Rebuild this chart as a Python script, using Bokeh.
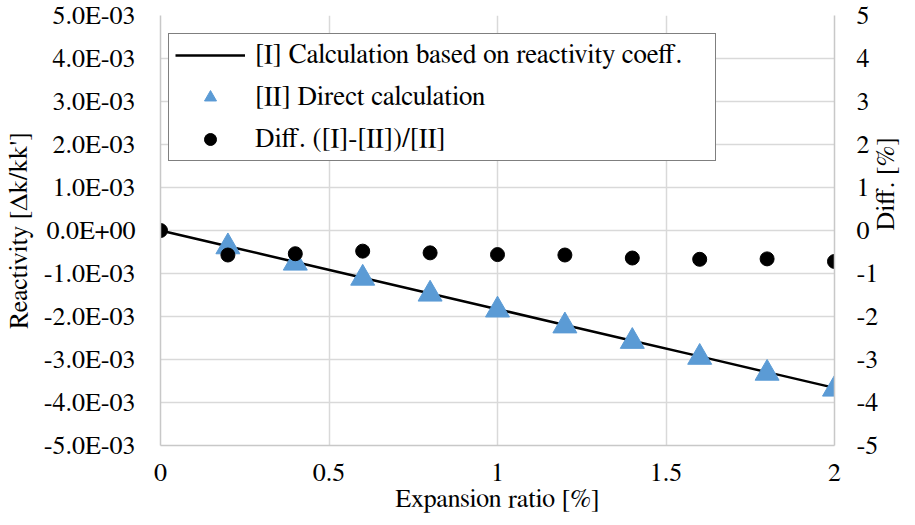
import math
from bokeh.plotting import figure
from bokeh.models import Range1d, LinearAxis, FixedTicker, CustomJSTickFormatter, Legend, LegendItem
from bokeh.embed import file_html
from bokeh.resources import INLINE

# ---- data ----
x_line = [0.0, 0.2, 0.4, 0.6, 0.8, 1.0, 1.2, 1.4, 1.6, 1.8, 2.0]
reactivity_coeff = [0.0, -0.366e-3, -0.732e-3, -1.098e-3, -1.464e-3, -1.830e-3,
                    -2.196e-3, -2.562e-3, -2.928e-3, -3.294e-3, -3.660e-3]
x_direct = [0.2, 0.4, 0.6, 0.8, 1.0, 1.2, 1.4, 1.6, 1.8, 2.0]
direct_calc = [-0.38e-3, -0.76e-3, -1.11e-3, -1.48e-3, -1.85e-3,
               -2.22e-3, -2.58e-3, -2.95e-3, -3.32e-3, -3.69e-3]
x_diff = [0.0, 0.2, 0.4, 0.6, 0.8, 1.0, 1.2, 1.4, 1.6, 1.8, 2.0]
diff_pct = [0.0, -0.57, -0.54, -0.48, -0.52, -0.56, -0.57, -0.64, -0.67, -0.66, -0.72]

x_ticks = [0, 0.5, 1, 1.5, 2]
y_ticks = [-0.005, -0.004, -0.003, -0.002, -0.001, 0.0, 0.001, 0.002, 0.003, 0.004, 0.005]
y2_ticks = [-5, -4, -3, -2, -1, 0, 1, 2, 3, 4, 5]

labels = ["[I] Calculation based on reactivity coeff.",
          "[II] Direct calculation",
          "Diff. ([I]-[II])/[II]"]

FONT = "FreeSerif"
FS = "26px"
GRID = "#D9D9D9"

p = figure(width=915, height=525, output_backend="svg", toolbar_location=None,
           x_range=Range1d(0, 2), y_range=Range1d(-0.005, 0.005),
           min_border_left=160, min_border_right=77, min_border_top=15, min_border_bottom=80)
p.outline_line_color = None
p.background_fill_color = "white"
p.border_fill_color = "white"
p.extra_y_ranges = {"diff": Range1d(-5, 5)}

# glyphs
r_line = p.line(x_line, reactivity_coeff, line_color="black", line_width=2.5)
r_tri = p.scatter(x_direct, direct_calc, marker="triangle", size=24,
                  fill_color="#5B9BD5", line_color="#5B9BD5")
r_dot = p.scatter(x_diff, diff_pct, marker="circle", size=14,
                  fill_color="black", line_color="black", y_range_name="diff")

# axes
def style_axis(ax):
    ax.major_label_text_font = FONT
    ax.major_label_text_font_size = FS
    ax.major_label_text_color = "black"
    ax.axis_label_text_font = FONT
    ax.axis_label_text_font_size = FS
    ax.axis_label_text_font_style = "normal"
    ax.axis_label_text_color = "black"
    ax.major_tick_line_color = None
    ax.minor_tick_line_color = None
    ax.major_tick_out = 0
    ax.major_tick_in = 0
    ax.axis_line_color = "#C8C8C8"
    ax.axis_line_width = 1.5

xa = p.xaxis[0]
style_axis(xa)
xa.ticker = FixedTicker(ticks=x_ticks)
xa.formatter = CustomJSTickFormatter(code="return tick.toString();")
xa.axis_label = "Expansion ratio [%]"
xa.major_label_standoff = 18
xa.axis_label_standoff = 2

ya = p.yaxis[0]
style_axis(ya)
ya.ticker = FixedTicker(ticks=y_ticks)
ya.formatter = CustomJSTickFormatter(code="""
    var s = tick.toExponential(1).toUpperCase();
    var m = s.match(/^(.*)E([+-])(\\d+)$/);
    var d = m[3].length < 2 ? '0' + m[3] : m[3];
    return m[1] + 'E' + m[2] + d;
""")
ya.axis_label = "Reactivity [Δk/kk']"
ya.major_label_standoff = 25
ya.axis_label_standoff = 9

y2 = LinearAxis(y_range_name="diff")
style_axis(y2)
y2.ticker = FixedTicker(ticks=y2_ticks)
y2.formatter = CustomJSTickFormatter(code="return tick.toString();")
y2.axis_label = "Diff. [%]"
y2.axis_label_orientation = math.pi / 2
y2.major_label_standoff = 22
y2.axis_label_standoff = 5
p.add_layout(y2, "right")

# grid
p.xgrid.ticker = FixedTicker(ticks=x_ticks)
p.ygrid.ticker = FixedTicker(ticks=y_ticks)
p.xgrid.grid_line_color = GRID
p.ygrid.grid_line_color = GRID
p.xgrid.grid_line_width = 1.5
p.ygrid.grid_line_width = 1.5

# legend
legend = Legend(items=[LegendItem(label=labels[0], renderers=[r_line]),
                       LegendItem(label=labels[1], renderers=[r_tri]),
                       LegendItem(label=labels[2], renderers=[r_dot])],
                location=(8, 284))
legend.label_text_font = FONT
legend.label_text_font_size = "27px"
legend.label_text_color = "black"
legend.border_line_color = "black"
legend.border_line_width = 1.5
legend.background_fill_color = "white"
legend.background_fill_alpha = 1.0
legend.padding = 6
legend.spacing = 12
legend.glyph_width = 70
legend.glyph_height = 30
legend.label_height = 30
legend.label_standoff = 10
legend.label_width = 454
legend.margin = 0
p.add_layout(legend, "center")

open("out.html", "w").write(file_html(p, INLINE))
